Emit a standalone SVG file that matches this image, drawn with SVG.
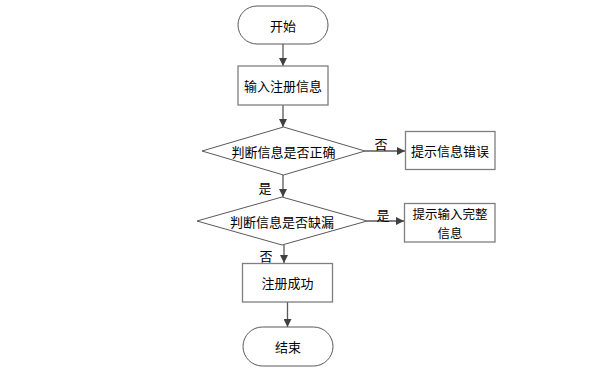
<svg xmlns="http://www.w3.org/2000/svg" width="604" height="373" viewBox="0 0 604 373">
<defs>
<style>
.t{font-family:"Noto Sans CJK SC","Liberation Sans",sans-serif;font-size:13px;fill:#000;text-anchor:middle;dominant-baseline:central}
.s{font-size:12.5px}
.n{fill:#fff;stroke:#7f7f7f;stroke-width:1.3}
.r{fill:#fff;stroke:#595959;stroke-width:1}
.c{stroke:#595959;stroke-width:1.3;fill:none;marker-end:url(#a)}
</style>
<marker id="a" viewBox="0 0 10 10" refX="10" refY="5" markerWidth="8" markerHeight="8" markerUnits="userSpaceOnUse" orient="auto">
<path d="M0,0 L10,5 L0,10 z" fill="#404040"/>
</marker>
</defs>
<rect width="604" height="373" fill="#fff"/>
<g id="connectors">
<line class="c" x1="283" y1="44" x2="283" y2="66"/>
<line class="c" x1="283" y1="105" x2="283" y2="127"/>
<line class="c" x1="365" y1="151" x2="405" y2="151"/>
<line class="c" x1="283" y1="175" x2="283" y2="197"/>
<line class="c" x1="367" y1="221" x2="404" y2="221"/>
<line class="c" x1="284" y1="245" x2="284" y2="263"/>
<line class="c" x1="287.5" y1="302" x2="287.5" y2="327"/>
<text class="t" x="381" y="143">否</text>
<text class="t" x="265" y="187">是</text>
<text class="t" x="383" y="214">是</text>
<text class="t" x="266" y="255">否</text>
</g>
<g id="start">
<rect class="r" x="238" y="6" width="90" height="38" rx="19"/>
<text class="t" x="283" y="25">开始</text>
</g>
<g id="input">
<rect class="n" x="238" y="66" width="90" height="39"/>
<text class="t" x="283" y="85.5">输入注册信息</text>
</g>
<g id="check1">
<polygon class="r" points="283.5,127 365,151 283.5,175 202,151"/>
<text class="t" x="283.5" y="151">判断信息是否正确</text>
</g>
<g id="err">
<rect class="n" x="405.5" y="131.5" width="89.5" height="38"/>
<text class="t" x="450" y="150.5">提示信息错误</text>
</g>
<g id="check2">
<polygon class="r" points="282,197 367,221 282,245 197,221"/>
<text class="t" x="282" y="221">判断信息是否缺漏</text>
</g>
<g id="incomplete">
<rect class="n" x="404.5" y="203.5" width="90.5" height="38.5"/>
<text class="t s" x="450" y="213.5">提示输入完整</text>
<text class="t s" x="450" y="232">信息</text>
</g>
<g id="success">
<rect class="n" x="242.5" y="263.5" width="90" height="38.5"/>
<text class="t" x="287.5" y="282.5">注册成功</text>
</g>
<g id="end">
<rect class="r" x="243" y="327" width="90" height="39" rx="19.5"/>
<text class="t" x="288" y="346.5">结束</text>
</g>
</svg>
